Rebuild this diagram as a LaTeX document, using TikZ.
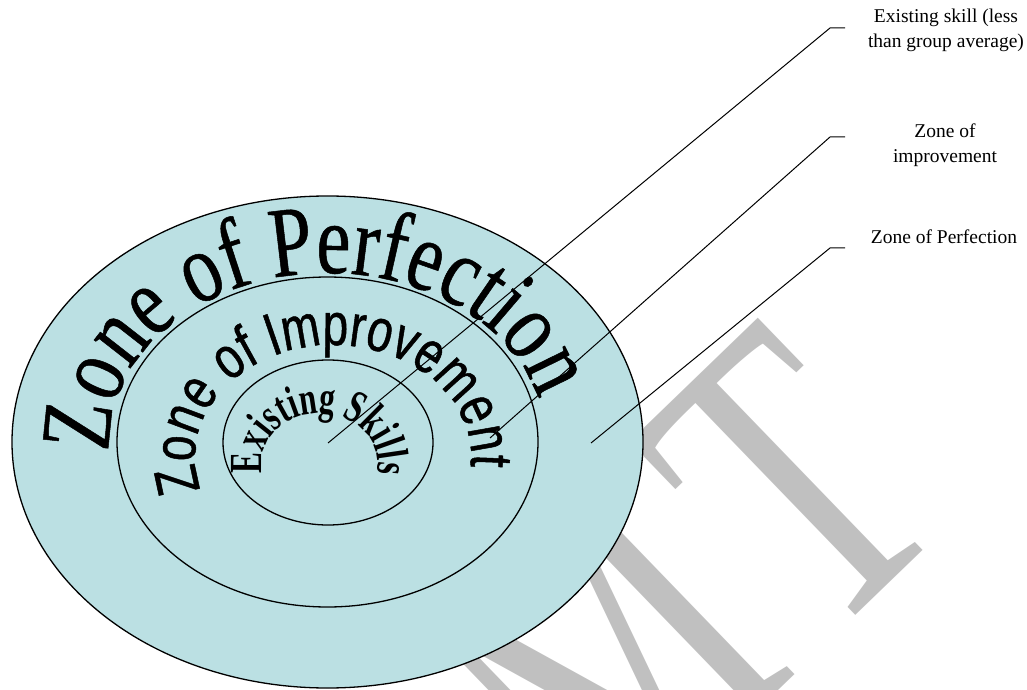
\documentclass[tikz,border=0pt]{standalone}
\usepackage{fontspec}
\setmainfont{Liberation Serif}
\newfontfamily\perfam{Liberation Serif}[FakeStretch=0.77,FakeBold=0.5]
\newfontfamily\impfam{Liberation Sans}[FakeStretch=0.766,FakeBold=0.8]
\newfontfamily\exfam{Liberation Serif}[FakeStretch=0.68]
\newfontfamily\wmfam{Liberation Serif}[FakeStretch=0.72]
\usetikzlibrary{decorations.text}
\definecolor{zonefill}{RGB}{187,224,227}
\definecolor{wmgray}{RGB}{192,192,192}
\newcommand\perfont{\perfam\fontsize{100}{100}\selectfont}
\newcommand\impfont{\impfam\fontsize{60}{60}\selectfont}
\newcommand\exfont{\exfam\bfseries\fontsize{46}{46}\selectfont}
\newcommand\labfont{\fontsize{19.5}{25}\selectfont}
\begin{document}
\begin{tikzpicture}[x=1pt,y=1pt,
  zone/.style={draw=black, line width=1.3pt, fill=zonefill},
  leader/.style={draw=black, line width=1pt},
  lab/.style={font=\labfont, align=center, inner sep=0pt},
  wm/.style={text=wmgray, font=\wmfam\fontsize{430}{430}\selectfont, inner sep=0pt, outer sep=0pt}]
\useasboundingbox (0,0) rectangle (1027,689);
% watermark
\begin{scope}
\clip (0,0) rectangle (1027,689);
\node[wm, anchor=base east, rotate=44] (wm) at (958.2,172) {M\kern29pt T};
\end{scope}
% zones
\draw[zone] (327.5,247) ellipse[x radius=315.5, y radius=246];
\draw[zone] (327.5,247) ellipse[x radius=210.5, y radius=165];
\draw[zone] (328,246.5) ellipse[x radius=105, y radius=82.5];
% curved titles
\begin{scope}[shift={(327.5,247)}]
\path[decorate, decoration={text along path, text={|\perfont|Zone of Perfection}, text align=center}]
  (189:218 and 169) arc[start angle=189, end angle=9, x radius=218, y radius=169];
\end{scope}
\begin{scope}[shift={(333,232)}]
\path[decorate, decoration={text along path, text={|\impfont|Zone of Improvement}, text align=center}]
  (196:138 and 112) arc[start angle=196, end angle=-4, x radius=138, y radius=112];
\end{scope}
\begin{scope}[shift={(320,226)}]
\path[decorate, decoration={text along path, text={|\exfont|Existing Skills}, text align=center}]
  (192:58 and 50) arc[start angle=192, end angle=-12, x radius=58, y radius=50];
\end{scope}
% labels
\node[lab] (lab1) at (946,658.5) {Existing skill (less\\than group average)};
\node[lab] (lab2) at (945,544) {Zone of\\improvement};
\node[lab] (lab3) at (944,452) {Zone of Perfection};
% leaders
\coordinate (s1) at (328,246);
\coordinate (k1) at (830,661);
\coordinate (e1) at (845,661);
\coordinate (s2) at (490,251);
\coordinate (k2) at (830,552);
\coordinate (e2) at (845,552);
\coordinate (s3) at (591,246);
\coordinate (k3) at (830,441);
\coordinate (e3) at (845,441);
\draw[leader] (s1) -- (k1) -- (e1);
\draw[leader] (s2) -- (k2) -- (e2);
\draw[leader] (s3) -- (k3) -- (e3);
\end{tikzpicture}
\end{document}
